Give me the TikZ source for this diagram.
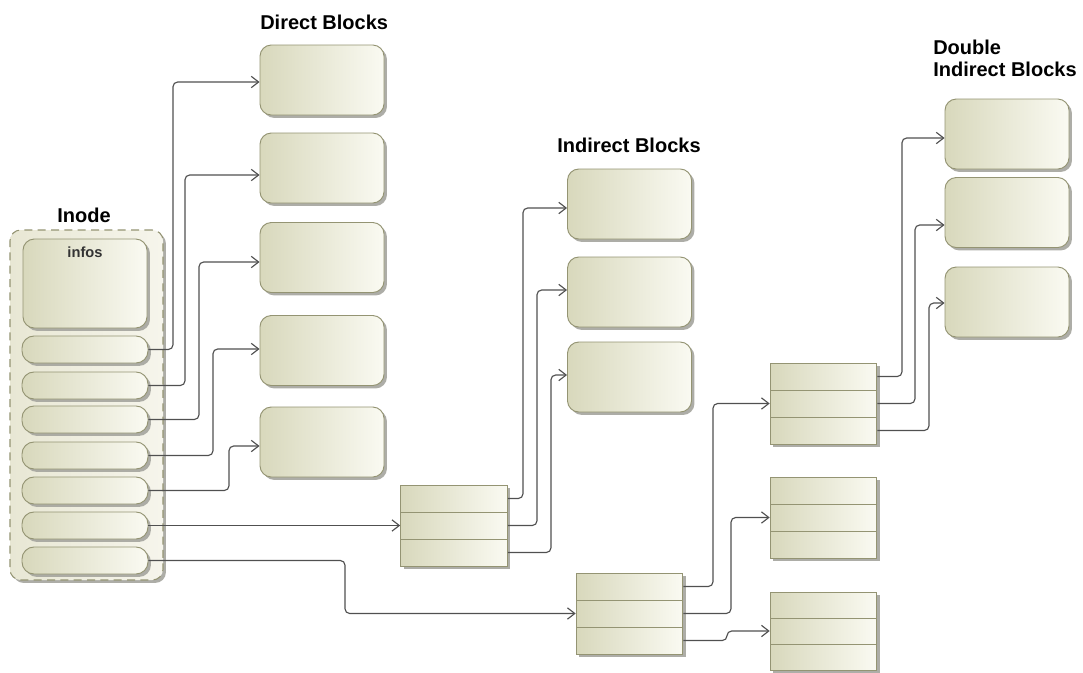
\documentclass[tikz,border=0pt]{standalone}
\usepackage{fontspec}
\setmainfont{Liberation Sans}
\usetikzlibrary{arrows.meta,shadows,calc}
\definecolor{boxL}{RGB}{216,216,188}
\definecolor{boxR}{RGB}{250,250,242}
\definecolor{boxB}{RGB}{148,148,115}
\definecolor{contL}{RGB}{232,231,212}
\definecolor{contR}{RGB}{246,245,236}
\definecolor{shad}{RGB}{165,165,158}
\definecolor{wire}{RGB}{80,80,80}
\tikzset{
  sh/.style={drop shadow={shadow xshift=2.2pt,shadow yshift=-2.2pt,fill=shad,opacity=0.9}},
  gbox/.style={draw=boxB,line width=0.7pt,left color=boxL,right color=boxR,sh,inner sep=0pt},
  blk/.style={gbox,rounded corners=8.5pt,minimum width=93pt,minimum height=52.5pt},
  slot/.style={gbox,rounded corners=9pt,minimum width=94.5pt,minimum height=20.25pt},
  row/.style={gbox,minimum width=80pt,minimum height=20.25pt},
  rowb/.style={gbox,minimum width=80pt,minimum height=19.5pt},
  cont/.style={draw=boxB,line width=0.8pt,dash pattern=on 6pt off 4pt,left color=contL,right color=contR,rounded corners=8pt,sh,minimum width=114.75pt,minimum height=262.5pt,inner sep=0pt},
  conn/.style={draw=wire,line width=0.85pt,rounded corners=3.5pt,-{Straight Barb[length=5.5pt,width=8.5pt]}},
  ttl/.style={font=\bfseries\fontsize{15}{16.5}\selectfont,inner sep=0pt,align=left}
}
\begin{document}
\begin{tikzpicture}[x=0.75pt,y=-0.75pt]
\useasboundingbox[fill=white] (0,0) rectangle (1083,672);
% titles
\node[ttl,anchor=west] (tdir) at (260,22) {Direct Blocks};
\node[ttl,anchor=west] (tind) at (557,145) {Indirect Blocks};
\node[ttl,anchor=west] (tdbl) at (933,58) {Double\\Indirect Blocks};
\node[ttl] (tino) at (84,215) {Inode};
% inode container
\node[cont] (inode) at (86.5,405) {};
\node[blk,minimum width=93pt,minimum height=66.75pt] (infos) at (85,283.5) {};
\node[font=\bfseries\fontsize{11}{12}\selectfont,text=black!80] (infot) at (85,252) {infos};
\node[slot] (s1) at (85,349.5) {};
\node[slot] (s2) at (85,385.5) {};
\node[slot] (s3) at (85,419.5) {};
\node[slot] (s4) at (85,455.5) {};
\node[slot] (s5) at (85,490.5) {};
\node[slot] (s6) at (85,525.5) {};
\node[slot] (s7) at (85,560.5) {};
% direct blocks
\node[blk] (d1) at (322,80) {};
\node[blk] (d2) at (322,168) {};
\node[blk] (d3) at (322,257.5) {};
\node[blk] (d4) at (322,350.5) {};
\node[blk] (d5) at (322,442) {};
% indirect blocks
\node[blk] (ib1) at (629.5,204) {};
\node[blk] (ib2) at (629.5,292) {};
\node[blk] (ib3) at (629.5,377) {};
% double indirect blocks
\node[blk] (db1) at (1007,134) {};
\node[blk] (db2) at (1007,212.5) {};
\node[blk] (db3) at (1007,302) {};
% indirect table
\node[row] (it1) at (454,498.5) {};
\node[row] (it2) at (454,525.5) {};
\node[row] (it3) at (454,552.5) {};
% double table level 1
\node[row] (dt1) at (629.5,586.5) {};
\node[row] (dt2) at (629.5,613.5) {};
\node[row] (dt3) at (629.5,640.5) {};
% level 2 tables
\node[row] (t11) at (823.5,376.5) {};
\node[row] (t12) at (823.5,403.5) {};
\node[row] (t13) at (823.5,430.5) {};
\node[row] (t21) at (823.5,490.5) {};
\node[row] (t22) at (823.5,517.5) {};
\node[row] (t23) at (823.5,544.5) {};
\node[rowb] (t31) at (823.5,605) {};
\node[rowb] (t32) at (823.5,631) {};
\node[rowb] (t33) at (823.5,657) {};
% connectors inode -> direct
\draw[conn] (s1.east) -| (173,82) -- ($(d1.west)+(0,2)$);
\draw[conn] (s2.east) -| (185,175) -- ($(d2.west)+(0,7)$);
\draw[conn] (s3.east) -| (199,262) -- ($(d3.west)+(0,4.5)$);
\draw[conn] (s4.east) -| (213,349) -- ($(d4.west)+(0,-1.5)$);
\draw[conn] (s5.east) -| (229,446) -- ($(d5.west)+(0,4)$);
\draw[conn] (s6.east) -- (it2.west);
\draw[conn] (s7.east) -| (345,613.5) -- (dt2.west);
% indirect table -> indirect blocks
\draw[conn] (it1.east) -| (523,208) -- ($(ib1.west)+(0,4)$);
\draw[conn] (it2.east) -| (537,290) -- ($(ib2.west)+(0,-2)$);
\draw[conn] (it3.east) -| (551,375) -- ($(ib3.west)+(0,-2)$);
% double table -> level 2 tables
\draw[conn] (dt1.east) -| (713,403.5) -- (t12.west);
\draw[conn] (dt2.east) -| (731,517.5) -- (t22.west);
\draw[conn] (dt3.east) -| (727,631) -- (t32.west);
% level 2 table -> double indirect blocks
\draw[conn] (t11.east) -| (902,138) -- ($(db1.west)+(0,4)$);
\draw[conn] (t12.east) -| (915,225) -- ($(db2.west)+(0,12.5)$);
\draw[conn] (t13.east) -| (929,303) -- ($(db3.west)+(0,1)$);
\end{tikzpicture}
\end{document}
